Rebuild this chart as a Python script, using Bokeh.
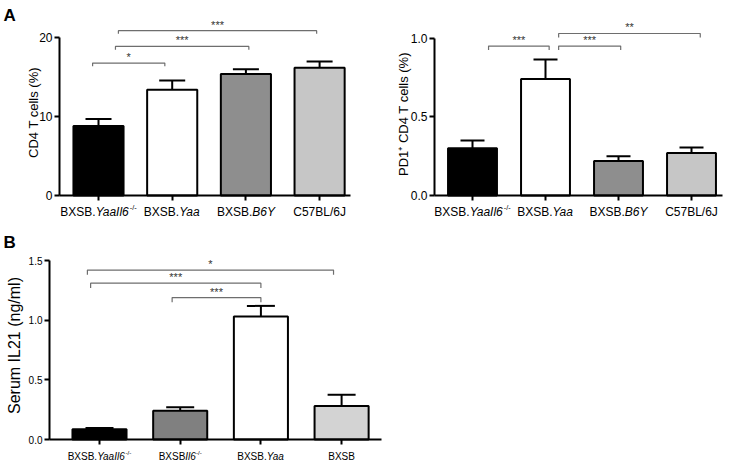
import math
from bokeh.plotting import figure
from bokeh.models import ColumnDataSource, Whisker, TeeHead, Label, FixedTicker, Range1d
from bokeh.layouts import column, row
from bokeh.embed import file_html
from bokeh.resources import INLINE
from bokeh.core.properties import value

# ---------------- data ----------------
# Panel A (left): CD4 T cells (%)
a1_x = [1, 2, 3, 4]
a1_mean = [8.8, 13.4, 15.4, 16.2]
a1_err = [0.9, 1.2, 0.6, 0.8]
a1_yticks = [0, 10, 20]
a1_ylabels = ["0", "10", "20"]
a1_br_x0 = [0.92, 1.23, 1.27]
a1_br_x1 = [1.90, 3.04, 3.96]
a1_br_y = [16.8, 18.9, 20.9]
a1_br_txt = ["*", "***", "***"]

# Panel A (right): PD1+ CD4 T cells (%)
a2_x = [1, 2, 3, 4]
a2_mean = [0.30, 0.74, 0.22, 0.27]
a2_err = [0.05, 0.125, 0.03, 0.035]
a2_yticks = [0.0, 0.5, 1.0]
a2_ylabels = ["0.0", "0.5", "1.0"]
a2_br_x0 = [1.22, 2.18, 2.18]
a2_br_x1 = [2.05, 3.03, 4.12]
a2_br_y = [0.95, 0.95, 1.03]
a2_br_txt = ["***", "***", "**"]

# Panel B: Serum IL21 (ng/ml)
b_x = [1, 2, 3, 4]
b_mean = [0.085, 0.24, 1.03, 0.28]
b_err = [0.012, 0.03, 0.09, 0.095]
b_yticks = [0.0, 0.5, 1.0, 1.5]
b_ylabels = ["0.0", "0.5", "1.0", "1.5"]
b_br_x0 = [0.85, 0.89, 1.90]
b_br_x1 = [3.90, 3.00, 3.00]
b_br_y = [1.42, 1.31, 1.19]
b_br_txt = ["*", "***", "***"]

# tick labels: (text, kind) kind: "" normal, "i" italic, "sup" superscript
a_labels = [
    [("BXSB.", ""), ("YaaIl6", "i"), ("-/-", "sup")],
    [("BXSB.", ""), ("Yaa", "i")],
    [("BXSB.", ""), ("B6Y", "i")],
    [("C57BL/6J", "")],
]
b_labels = [
    [("BXSB.", ""), ("YaaIl6", "i"), ("-/-", "sup")],
    [("BXSB", ""), ("Il6", "i"), ("-/-", "sup")],
    [("BXSB.", ""), ("Yaa", "i")],
    [("BXSB", "")],
]
a1_title = "CD4 T cells (%)"
a2_title = "PD1\u207a CD4 T cells (%)"
b_title = "Serum IL21 (ng/ml)"

# ---------------- styles ----------------
FONT = "Liberation Sans"
a_colors = ["#000000", "#ffffff", "#8e8e8e", "#c6c6c6"]
b_colors = ["#000000", "#808080", "#ffffff", "#d3d3d3"]
BR_COLOR = "#6e6e6e"

ARIAL = {'B': 667, 'X': 667, 'S': 667, '.': 278, 'Y': 667, 'a': 556, 'I': 278,
         'l': 222, '6': 556, '-': 333, '/': 278, 'C': 722, '5': 556, '7': 556,
         'L': 556, 'J': 500}


def text_w(txt, size):
    return sum(ARIAL.get(c, 556) for c in txt) / 1000.0 * size


class Geo:
    """Maps page pixels to data for a figure whose frame fills its canvas."""
    def __init__(self, ox, oy, w, h, x1_px, ppx, y0_px, ppy):
        self.ox, self.oy, self.w, self.h = ox, oy, w, h
        self.x1, self.ppx, self.y0, self.ppy = x1_px, ppx, y0_px, ppy

    def dx(self, px):
        return 1 + (px - self.x1) / self.ppx

    def dy(self, py):
        return (self.y0 - py) / self.ppy

    @property
    def xr(self):
        return (self.dx(self.ox), self.dx(self.ox + self.w))

    @property
    def yr(self):
        return (self.dy(self.oy + self.h), self.dy(self.oy))


def rich_label(p, x, segs, size, base_off):
    sizes = [size * 0.62 if k == "sup" else size for _, k in segs]
    widths = [text_w(t, s) for (t, _), s in zip(segs, sizes)]
    cur = -sum(widths) / 2.0
    for (t, k), w, s in zip(segs, widths, sizes):
        p.add_layout(Label(
            x=x, y=0, x_offset=cur,
            y_offset=-base_off + (0.42 * size if k == "sup" else 0),
            text=t, text_font=FONT, text_font_size=f"{s:.1f}px",
            text_font_style="italic" if k == "i" else "normal",
            text_align="left", text_baseline="alphabetic", text_color="black"))
        cur += w


def make_panel(g, axis_left_px, axis_right_px, xs, mean, err, colors, yticks, ylabels,
               bar_w, cap, br_x0, br_x1, br_y, br_txt, br_drop, tick_size):
    p = figure(width=g.w, height=g.h, x_range=Range1d(*g.xr), y_range=Range1d(*g.yr),
               min_border=0, output_backend="svg", toolbar_location=None, tools="")
    p.outline_line_color = None
    p.xgrid.visible = False
    p.ygrid.visible = False
    p.background_fill_color = "white"
    p.border_fill_color = "white"

    src = ColumnDataSource(dict(x=xs, top=mean, upper=[m + e for m, e in zip(mean, err)],
                                color=colors))
    p.vbar(x="x", top="top", width=bar_w, bottom=0, source=src, fill_color="color",
           line_color="black", line_width=2)
    p.add_layout(Whisker(base="x", upper="upper", lower="top", source=src,
                         upper_head=TeeHead(size=cap, line_width=2, line_color="black"),
                         lower_head=None, line_width=2, line_color="black"))

    # significance brackets
    bxs = [[x0, x0, x1, x1] for x0, x1 in zip(br_x0, br_x1)]
    bys = [[y - br_drop, y, y, y - br_drop] for y in br_y]
    p.multi_line(xs=bxs, ys=bys, line_color=BR_COLOR, line_width=1.2)
    p.text(x=[(a + c) / 2 for a, c in zip(br_x0, br_x1)], y=br_y, text=br_txt,
           text_align="center", text_baseline="bottom", text_font=value(FONT),
           text_font_size="11px", text_color="#333333")

    ax_x = g.dx(axis_left_px)
    ya = p.yaxis[0]
    ya.fixed_location = ax_x
    ya.ticker = FixedTicker(ticks=yticks)
    ya.major_label_overrides = {t: l for t, l in zip(yticks, ylabels)}
    ya.bounds = (yticks[0], yticks[-1])
    ya.axis_line_width = 2
    ya.major_tick_line_width = 2
    ya.major_tick_out = 5
    ya.major_tick_in = 0
    ya.minor_tick_line_color = None
    ya.major_label_standoff = 2
    ya.major_label_text_font = FONT
    ya.major_label_text_font_size = tick_size
    ya.major_label_text_color = "black"

    xa = p.xaxis[0]
    xa.fixed_location = 0
    xa.bounds = (ax_x, g.dx(axis_right_px))
    xa.ticker = FixedTicker(ticks=xs)
    xa.axis_line_width = 2
    xa.major_tick_line_width = 2
    xa.major_tick_out = 5
    xa.major_tick_in = 0
    xa.minor_tick_line_color = None
    xa.major_label_overrides = {x: "" for x in xs}
    xa.major_label_text_font_size = "1px"
    xa.major_label_standoff = 0
    return p


def title_label(p, g, cx, cy, text, size):
    p.add_layout(Label(x=g.dx(cx), y=g.dy(cy), angle=math.pi / 2, text=text,
                       text_font=FONT, text_font_size=size, text_align="center",
                       text_baseline="middle", text_color="black"))


def letter(p, g, px, py, text):
    p.add_layout(Label(x=g.dx(px), y=g.dy(py), text=text, text_font=FONT,
                       text_font_size="17px", text_font_style="bold",
                       text_align="left", text_baseline="top", text_color="black"))


# Panel A left: canvas at page (0, 0), 390 x 226
gA1 = Geo(0, 0, 390, 226, 98, 73.7, 195, 7.885)
pA1 = make_panel(gA1, 59, 350, a1_x, a1_mean, a1_err, a_colors, a1_yticks, a1_ylabels,
                 0.68, 26, a1_br_x0, a1_br_x1, a1_br_y, a1_br_txt, 0.4, "12px")
for x, segs in zip(a1_x, a_labels):
    rich_label(pA1, x, segs, 12, 16.6)
title_label(pA1, gA1, 33, 112, a1_title, "13px")
letter(pA1, gA1, 3, 5, "A")

# Panel A right: canvas at page (390, 0), 340 x 226
gA2 = Geo(390, 0, 340, 226, 472, 73.0, 195, 157.3)
pA2 = make_panel(gA2, 434, 722, a2_x, a2_mean, a2_err, a_colors, a2_yticks, a2_ylabels,
                 0.67, 24, a2_br_x0, a2_br_x1, a2_br_y, a2_br_txt, 0.025, "12px")
for x, segs in zip(a2_x, a_labels):
    rich_label(pA2, x, segs, 12, 16.6)
title_label(pA2, gA2, 403, 113.5, a2_title, "13px")

# Panel B: canvas at page (0, 226), 400 x 235
gB = Geo(0, 226, 400, 235, 99, 80.7, 439, 119.3)
pB = make_panel(gB, 49, 381, b_x, b_mean, b_err, b_colors, b_yticks, b_ylabels,
                0.67, 28, b_br_x0, b_br_x1, b_br_y, b_br_txt, 0.04, "10px")
for x, segs in zip(b_x, b_labels):
    rich_label(pB, x, segs, 10, 17)
title_label(pB, gB, 14, 345, b_title, "16px")
letter(pB, gB, 3, 232, "B")

layout = column(row(pA1, pA2), pB)
open("out.html", "w").write(file_html(layout, INLINE))
